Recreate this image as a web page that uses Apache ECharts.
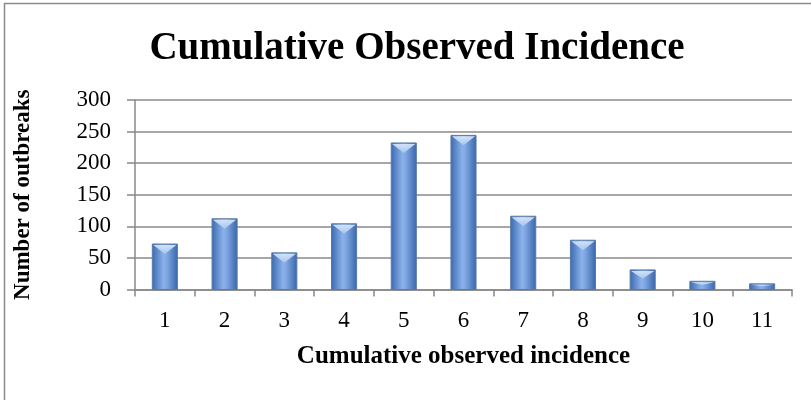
<!DOCTYPE html>
<html><head><meta charset="utf-8">
<script src="https://cdn.jsdelivr.net/npm/echarts@6/dist/echarts.min.js"></script>
<style>html,body{margin:0;padding:0;background:#fff}#c{width:811px;height:400px}</style>
</head><body><div id="c"></div>
<script>
const categories = ['1','2','3','4','5','6','7','8','9','10','11'];
const outbreaks = [72, 112, 58, 104, 232, 244, 116, 78, 31, 13, 9];
const yTicks = [0, 50, 100, 150, 200, 250, 300];

const serif = '"Liberation Serif", "DejaVu Serif", serif';
const chart = echarts.init(document.getElementById('c'), null, {renderer: 'canvas'});

function renderBar(params, api) {
  const idx = api.value(0);
  const val = api.value(1);
  const top = api.coord([idx, val]);
  const base = api.coord([idx, 0]);
  const band = api.size([1, 0])[0];
  const w = band * 0.42;
  const x = top[0] - w / 2;
  const h = base[1] - top[1];
  const bev = Math.min(10, h * 0.45);
  return {
    type: 'group',
    children: [
      {type: 'rect', shape: {x: x, y: top[1], width: w, height: h},
       style: {fill: new echarts.graphic.LinearGradient(0, 0, 1, 0, [
         {offset: 0, color: '#3a69b0'}, {offset: 0.45, color: '#8ab1e9'},
         {offset: 0.55, color: '#83aae4'}, {offset: 1, color: '#3866ab'}]),
         stroke: '#587aa6', lineWidth: 1}},
      {type: 'polygon', shape: {points: [[x + 1, top[1] + 1], [x + w - 1, top[1] + 1], [x + w / 2, top[1] + bev]]},
       style: {fill: new echarts.graphic.LinearGradient(0, 0, 0, 1, [
         {offset: 0, color: '#dbe9fb'}, {offset: 1, color: '#a9c8f2'}]), opacity: 0.9}}
    ]
  };
}

chart.setOption({
  animation: false,
  backgroundColor: '#ffffff',
  title: {
    text: 'Cumulative Observed Incidence', left: 412, top: 24, textAlign: 'center',
    textStyle: {fontFamily: serif, fontWeight: 'bold', fontSize: 39, color: '#000'}
  },
  graphic: [
    {type: 'line', shape: {x1: 4, y1: 3.5, x2: 811, y2: 3.5}, style: {stroke: '#8a8a8a', lineWidth: 1.5}},
    {type: 'line', shape: {x1: 4.5, y1: 3, x2: 4.5, y2: 400}, style: {stroke: '#8a8a8a', lineWidth: 1.5}}
  ],
  grid: {left: 135, right: 19, top: 100, bottom: 110.5, containLabel: false},
  xAxis: {
    type: 'category', data: categories,
    name: 'Cumulative observed incidence', nameLocation: 'middle', nameGap: 55,
    nameTextStyle: {fontFamily: serif, fontWeight: 'bold', fontSize: 25, color: '#000'},
    axisLine: {lineStyle: {color: '#888', width: 1.5}},
    axisTick: {show: true, alignWithLabel: false, length: 7, lineStyle: {color: '#888', width: 1.5}},
    axisLabel: {fontFamily: serif, fontSize: 23, color: '#000', margin: 20}
  },
  yAxis: {
    type: 'value', min: 0, max: 300, interval: 50,
    name: 'Number of outbreaks', nameLocation: 'middle', nameGap: 100, nameRotate: 90,
    nameTextStyle: {fontFamily: serif, fontWeight: 'bold', fontSize: 23, color: '#000'},
    axisLine: {show: true, lineStyle: {color: '#888', width: 1.5}},
    axisTick: {show: true, length: 8, lineStyle: {color: '#888', width: 1.5}},
    splitLine: {show: true, lineStyle: {color: '#8a8a8a', width: 1.5}},
    axisLabel: {fontFamily: serif, fontSize: 23, color: '#000', margin: 24,
      formatter: v => yTicks.includes(v) ? String(v) : ''}
  },
  series: [{
    type: 'custom', renderItem: renderBar,
    encode: {x: 0, y: 1},
    data: outbreaks.map((v, i) => [i, v])
  }]
});
</script></body></html>
